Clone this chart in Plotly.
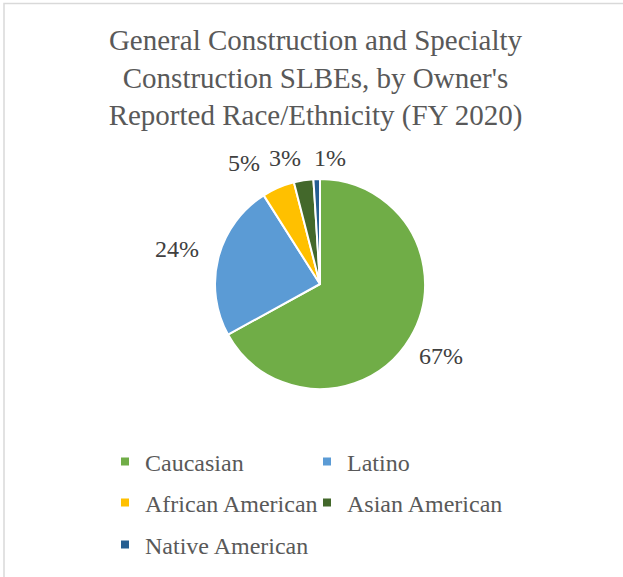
import math
import plotly.graph_objects as go

# ---- data ----
categories = ["Caucasian", "Latino", "African American", "Asian American", "Native American"]
values = [67, 24, 5, 3, 1]
colors = ["#70AD47", "#5B9BD5", "#FFC000", "#43682B", "#255E91"]
title_lines = ["General Construction and Specialty",
               "Construction SLBEs, by Owner's",
               "Reported Race/Ethnicity (FY 2020)"]

# ---- layout constants ----
W, H = 623, 577
CX, CY, R = 320, 284, 105          # pie centre / radius in px
FONT = "Liberation Serif"
label_nudge_x = [0, -5, -24, -15, 14]   # px, to keep crowded labels apart

fig = go.Figure()
fig.add_trace(go.Pie(
    labels=categories, values=values, sort=False, direction="clockwise", rotation=0,
    marker=dict(colors=colors, line=dict(color="white", width=2)),
    textinfo="none", hoverinfo="label+percent", showlegend=False,
    domain=dict(x=[(CX - R) / W, (CX + R) / W], y=[1 - (CY + R) / H, 1 - (CY - R) / H]),
))

# data labels computed from the values
total = sum(values)
cum = 0
annotations = []
for i, v in enumerate(values):
    theta = 2 * math.pi * (cum + v / 2) / total
    cum += v
    s, c = math.sin(theta), math.cos(theta)
    rl = R + 20 + 18 * abs(s)
    xp = CX + rl * s + label_nudge_x[i]
    yp = CY - rl * c
    annotations.append(dict(
        x=xp / W, y=1 - yp / H, xref="paper", yref="paper",
        text=f"{round(v / total * 100)}%", showarrow=False,
        font=dict(family=FONT, size=24, color="#404040"),
        xanchor="center", yanchor="middle"))

# legend via dummy traces in three legends (rows)
legend_of = ["legend", "legend", "legend2", "legend2", "legend3"]
for name, col, lg in zip(categories, colors, legend_of):
    fig.add_trace(go.Scatter(
        x=[None], y=[None], mode="markers", name=name, legend=lg,
        marker=dict(symbol="square", size=8, color=col), showlegend=True, hoverinfo="skip"))

row_y = [462, 503, 545]
leg_font = dict(family=FONT, size=24, color="#595959")
leg_common = dict(orientation="h", xanchor="left", yanchor="middle", font=leg_font,
                  bgcolor="rgba(0,0,0,0)", borderwidth=0)
legend_x = (131 - 26) / W

fig.update_layout(
    width=W, height=H, margin=dict(l=0, r=0, t=0, b=0),
    paper_bgcolor="white", plot_bgcolor="white",
    title=dict(text="<br>".join(title_lines), x=315.5 / W, xanchor="center",
               y=1 - 50 / H, yanchor="top",
               font=dict(family=FONT, size=29, color="#595959")),
    xaxis=dict(visible=False), yaxis=dict(visible=False),
    legend=dict(x=legend_x, y=1 - row_y[0] / H, entrywidth=157, entrywidthmode="pixels", **leg_common),
    legend2=dict(x=legend_x, y=1 - row_y[1] / H, entrywidth=157, entrywidthmode="pixels", **leg_common),
    legend3=dict(x=legend_x, y=1 - row_y[2] / H, **leg_common),
    annotations=annotations,
    shapes=[dict(type="rect", xref="paper", yref="paper",
                 x0=4 / W, x1=1.02, y0=-0.02, y1=1 - 3.5 / H,
                 line=dict(color="#D9D9D9", width=1.5), fillcolor="rgba(0,0,0,0)")],
)

fig.write_html("out.html")
